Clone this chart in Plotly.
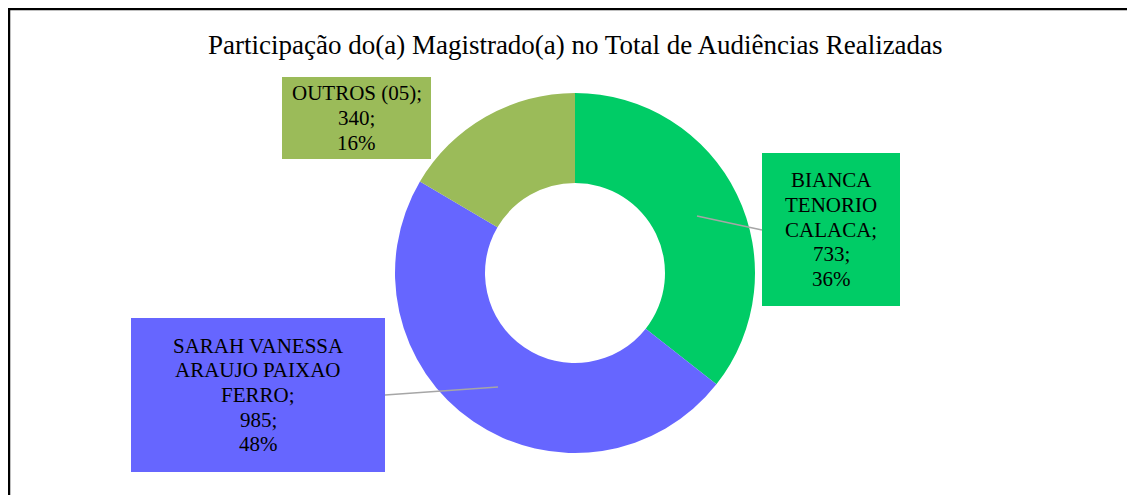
import plotly.graph_objects as go

# ---- data ----
names = ["BIANCA TENORIO CALACA", "SARAH VANESSA ARAUJO PAIXAO FERRO", "OUTROS (05)"]
name_lines = [["BIANCA", "TENORIO", "CALACA;"],
              ["SARAH VANESSA", "ARAUJO PAIXAO", "FERRO;"],
              ["OUTROS (05);"]]
values = [733, 985, 340]
pct_labels = [36, 48, 16]
colors = ["#00CC66", "#6666FF", "#9BBB59"]
title = "Participação do(a) Magistrado(a) no Total de Audiências Realizadas"

W, H = 1135, 495
OFF = 8  # page body margin
FONT = "Liberation Serif, Times New Roman, serif"


def px(x):
    return (x - OFF) / W


def py(y):
    return 1 - (y - OFF) / H


fig = go.Figure()
fig.add_trace(go.Pie(
    labels=names, values=values, hole=0.5, sort=False, direction="clockwise",
    rotation=0, marker=dict(colors=colors, line=dict(width=0)),
    textinfo="none", hoverinfo="label+value+percent", showlegend=False,
    domain=dict(x=[px(395), px(755)], y=[py(453), py(93)]),
))

# label boxes: (left, top, right, bottom) in pixels
boxes = [(762, 153, 900, 306), (131, 318, 385, 472), (282, 77, 431, 159)]
LINE = 24.6
shapes = []
annotations = []
for nm, v, p, c, (l, t, r, b) in zip(name_lines, values, pct_labels, colors, boxes):
    shapes.append(dict(type="rect", xref="paper", yref="paper", x0=px(l), x1=px(r),
                       y0=py(b), y1=py(t), fillcolor=c, line=dict(width=0), layer="below"))
    lines = nm + [f"{v};", f"{p}%"]
    n = len(lines)
    cy = (t + b) / 2
    cx = (l + r) / 2
    for i, s in enumerate(lines):
        yy = cy + (i - (n - 1) / 2) * LINE
        annotations.append(dict(
            text=s, x=px(cx), y=py(yy), xref="paper", yref="paper",
            xanchor="center", yanchor="middle", showarrow=False,
            font=dict(family=FONT, size=21, color="#000000"),
        ))

annotations.append(dict(
    text=title, x=px(575.5), y=py(45), xref="paper", yref="paper",
    xanchor="center", yanchor="middle", showarrow=False,
    font=dict(family=FONT, size=27, color="#000000"),
))

shapes += [
    # leader lines
    dict(type="line", xref="paper", yref="paper", x0=px(697), y0=py(216), x1=px(762), y1=py(230),
         line=dict(color="#A6A6A6", width=1.5)),
    dict(type="line", xref="paper", yref="paper", x0=px(498), y0=py(387), x1=px(385), y1=py(395),
         line=dict(color="#A6A6A6", width=1.5)),
    # frame
    dict(type="line", xref="paper", yref="paper", x0=px(8), y0=py(9), x1=px(1145), y1=py(9),
         line=dict(color="#000000", width=2.5)),
    dict(type="line", xref="paper", yref="paper", x0=px(9), y0=py(8), x1=px(9), y1=py(505),
         line=dict(color="#000000", width=2.5)),
]

fig.update_layout(
    width=W, height=H, margin=dict(l=0, r=0, t=0, b=0),
    paper_bgcolor="#FFFFFF", plot_bgcolor="#FFFFFF",
    annotations=annotations, shapes=shapes,
)

fig.write_html("out.html")
